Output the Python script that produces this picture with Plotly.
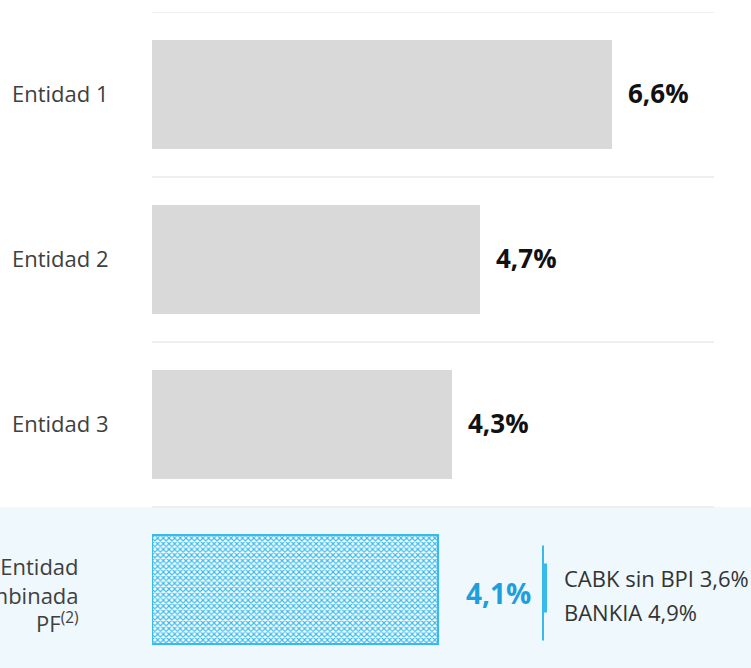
import plotly.graph_objects as go

categories = ["Entidad 1", "Entidad 2", "Entidad 3", "Entidad<br>combinada<br>PF<sup>(2)</sup>"]
values = [6.6, 4.7, 4.3, 4.1]
value_labels = ["6,6%", "4,7%", "4,3%", "4,1%"]
side_labels = ["CABK sin BPI 3,6%", "BANKIA 4,9%"]

W, H = 751, 668
L, R, T, B = 152, 37, 12, 0
pw = W - L - R
ph = H - T - B
xmax = 8.06
yunit = 165.0
ybot = ph / yunit - 0.5

FONT = "Open Sans, Noto Sans, sans-serif"
GRAY = "#d9d9d9"
BLUE = "#1e9fdc"
LBLUE = "#38bbeb"

ypos = list(range(len(categories)))

fig = go.Figure()
fig.add_trace(go.Bar(
    x=values[:3], y=ypos[:3], orientation="h", width=0.655,
    marker=dict(color=GRAY, line=dict(width=0)), hoverinfo="skip"))
fig.add_trace(go.Bar(
    x=values[3:], y=ypos[3:], orientation="h", width=0.655,
    marker=dict(color="#ffffff", line=dict(color=LBLUE, width=2),
                pattern=dict(shape="x", size=4, solidity=0.5, fgcolor=LBLUE, bgcolor="#ffffff", fillmode="replace")),
    hoverinfo="skip"))

shapes = []
shapes.append(dict(type="rect", xref="paper", yref="y", x0=-L / pw, x1=(W - L) / pw,
                   y0=2.5, y1=4.5, fillcolor="#eef8fd", line=dict(width=0), layer="below"))
for b in [-0.5, 0.5, 1.5, 2.5]:
    shapes.append(dict(type="line", xref="x", yref="y", x0=0, x1=xmax, y0=b, y1=b,
                       line=dict(color="#efefef", width=2), layer="below"))
bx = (543 - L) / pw
shapes.append(dict(type="line", xref="paper", yref="y", x0=bx, x1=bx,
                   y0=3 - 44 / yunit, y1=3 + 51 / yunit, line=dict(color=LBLUE, width=2)))
shapes.append(dict(type="rect", xref="paper", yref="y", x0=bx, x1=(547 - L) / pw,
                   y0=3 - 26 / yunit, y1=3 + 23 / yunit, fillcolor=LBLUE, line=dict(width=0)))

annotations = []
for i, (c, v, t) in enumerate(zip(categories, values, value_labels)):
    if i < 3:
        annotations.append(dict(x=-41 / pw, xref="paper", y=i, yref="y", yshift=2, text=c, showarrow=False,
                                xanchor="right", font=dict(family=FONT, size=22, color="#404040")))
        annotations.append(dict(x=v, xref="x", y=i, yref="y", yshift=2, text="<b>" + t + "</b>", showarrow=False,
                                xanchor="left", xshift=14, font=dict(family=FONT, size=26, color="#111111")))
    else:
        annotations.append(dict(x=-71 / pw, xref="paper", y=i, yref="y", yshift=-5, text=c, showarrow=False,
                                xanchor="right", align="right", font=dict(family=FONT, size=22, color="#404040")))
        annotations.append(dict(x=v, xref="x", y=i, yref="y", yshift=-3, text="<b>" + t + "</b>", showarrow=False,
                                xanchor="left", xshift=26, font=dict(family=FONT, size=28, color=BLUE)))
annotations.append(dict(x=(562 - L) / pw, xref="paper", y=3 - 12 / yunit, yref="y", text=side_labels[0],
                        showarrow=False, xanchor="left", font=dict(family=FONT, size=22, color="#333333")))
annotations.append(dict(x=(562 - L) / pw, xref="paper", y=3 + 22 / yunit, yref="y", text=side_labels[1],
                        showarrow=False, xanchor="left", font=dict(family=FONT, size=22, color="#333333")))

fig.update_layout(
    width=W, height=H, margin=dict(l=L, r=R, t=T, b=B, pad=0),
    paper_bgcolor="white", plot_bgcolor="rgba(0,0,0,0)",
    showlegend=False, bargap=0,
    xaxis=dict(range=[0, xmax], visible=False, fixedrange=True),
    yaxis=dict(range=[ybot, -0.5], visible=False, fixedrange=True),
    shapes=shapes, annotations=annotations,
)

fig.write_html("out.html", config={"displayModeBar": False},
               post_script="document.body.style.margin='0';")
